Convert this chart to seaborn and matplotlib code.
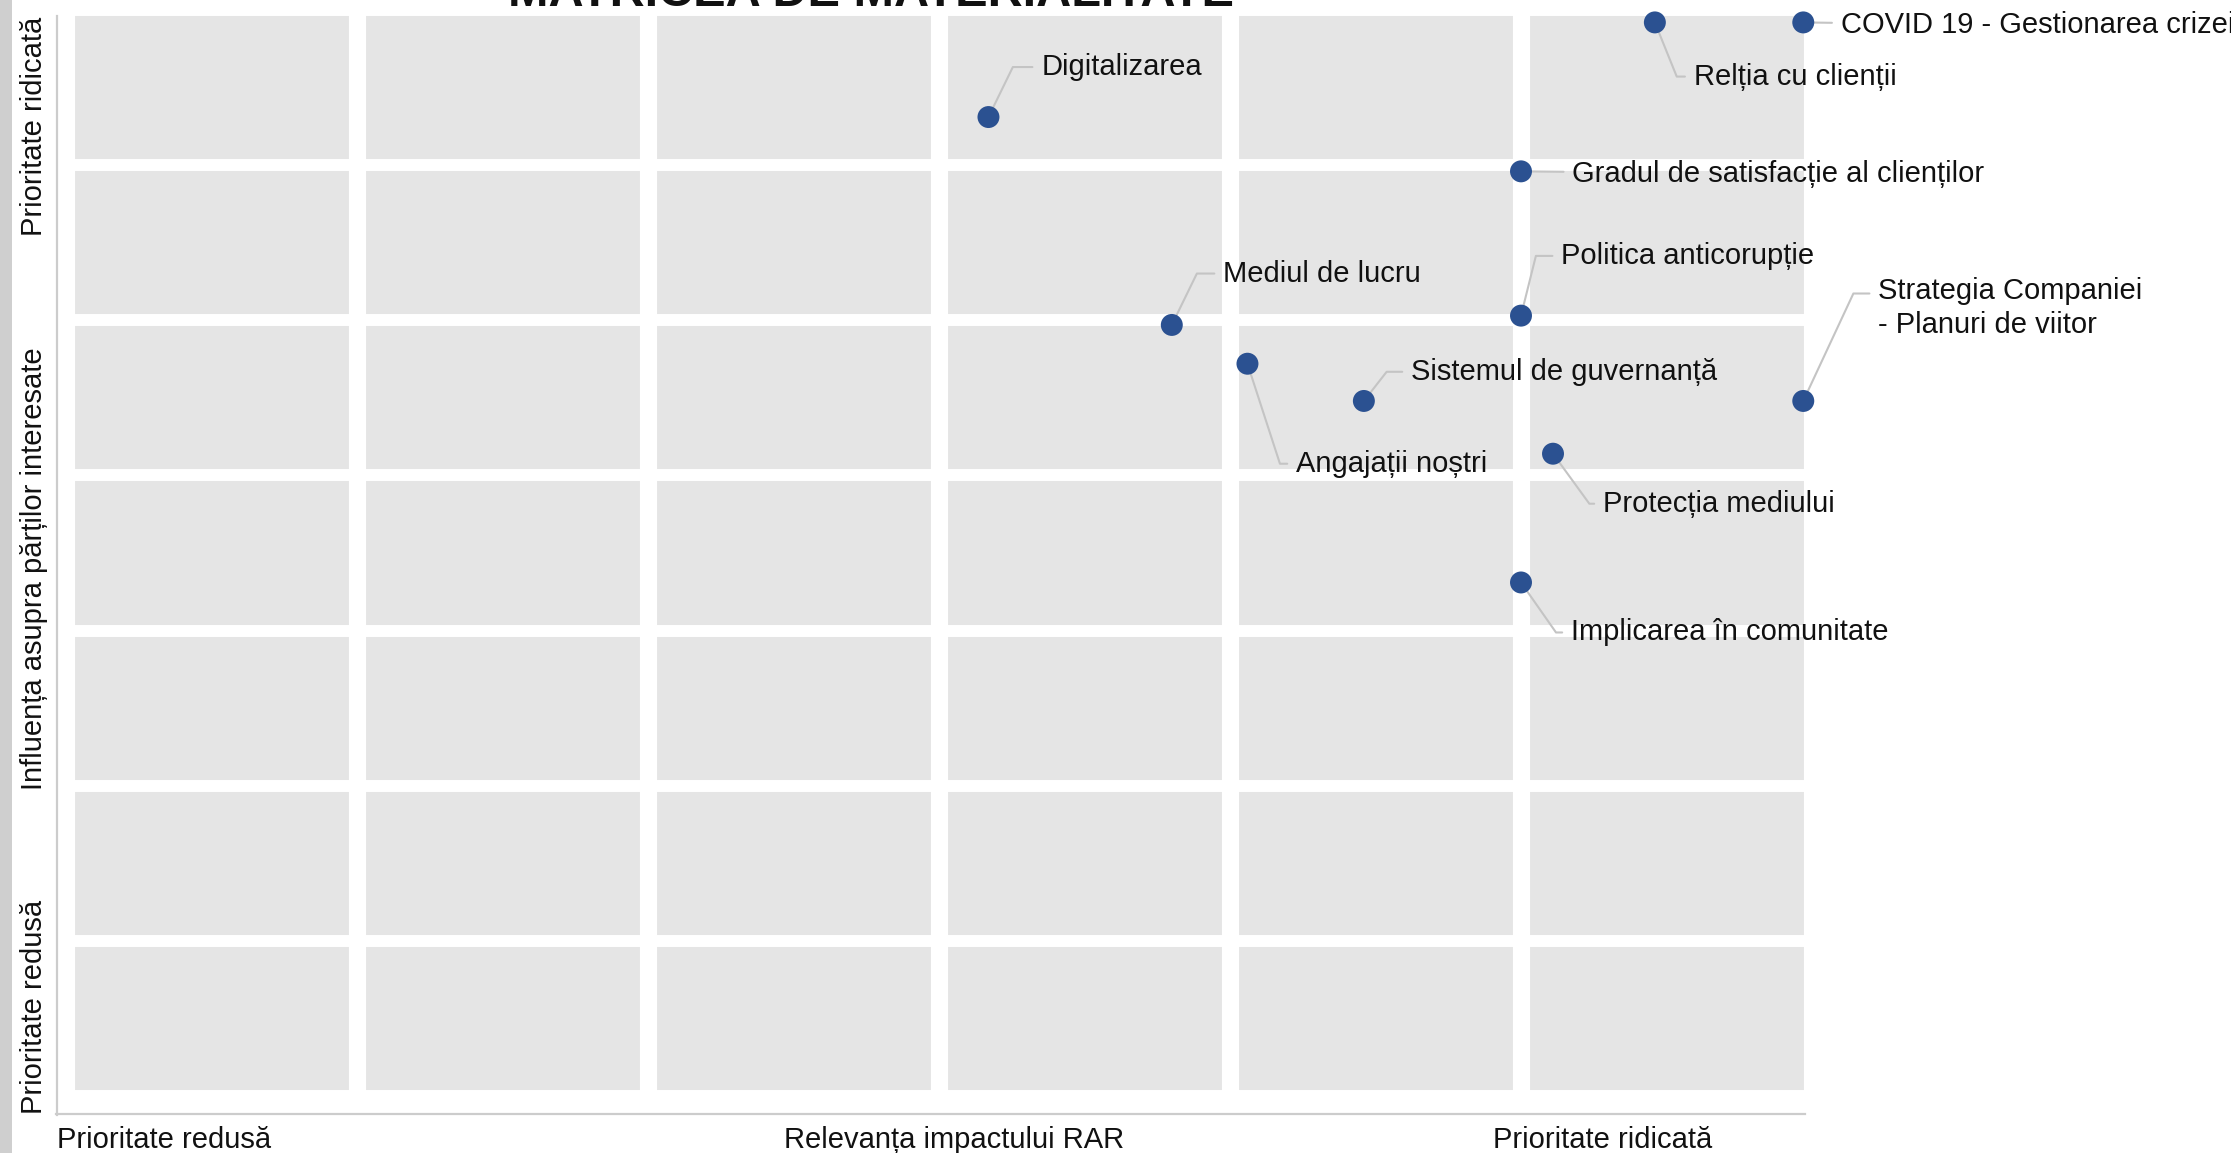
import pandas as pd
import matplotlib.pyplot as plt
import seaborn as sns
from matplotlib.patches import Rectangle

# === Date ===
teme = [
    "Digitalizarea",
    "Relția cu clienții",
    "COVID 19 - Gestionarea crizei",
    "Gradul de satisfacție al clienților",
    "Politica anticorupție",
    "Mediul de lucru",
    "Angajații noștri",
    "Sistemul de guvernanță",
    "Strategia Companiei\n- Planuri de viitor",
    "Protecția mediului",
    "Implicarea în comunitate",
]
relevanta_rar = [3.17, 5.46, 5.97, 5.00, 5.00, 3.80, 4.06, 4.46, 5.97, 5.11, 5.00]
influenta = [6.31, 6.92, 6.92, 5.96, 5.03, 4.97, 4.72, 4.48, 4.48, 4.14, 3.31]

x_labels = ["Prioritate redusă", "Relevanța impactului RAR", "Prioritate ridicată"]
y_labels = ["Prioritate ridicată", "Influența asupra părților interesate", "Prioritate redusă"]
titlu = "MATRICEA DE MATERIALITATE"

df = pd.DataFrame({"tema": teme, "x": relevanta_rar, "y": influenta})

# pozitia etichetelor: (dx, dy) in puncte, unghiul liniei de legatura
etichete = {
    "Digitalizarea": (38, 36, 64),
    "Relția cu clienții": (28, -39, -68),
    "COVID 19 - Gestionarea crizei": (27, -2, None),
    "Gradul de satisfacție al clienților": (37, -2, None),
    "Politica anticorupție": (29, 43, 76),
    "Mediul de lucru": (37, 37, 64),
    "Angajații noștri": (35, -72, -72),
    "Sistemul de guvernanță": (34, 21, 52),
    "Strategia Companiei\n- Planuri de viitor": (54, 67, 65),
    "Protecția mediului": (36, -36, -54),
    "Implicarea în comunitate": (36, -36, -55),
}

FS = 21

# === Stil ===
sns.set_style("darkgrid", {"axes.facecolor": "#e5e5e5", "grid.color": "white"})
plt.rcParams["font.family"] = ["Liberation Sans", "DejaVu Sans"]

W, H = 2231, 1153
fig = plt.figure(figsize=(W / 100, H / 100), dpi=100)
ax = fig.add_axes([66 / W, 1 - 1096 / H, (1812 - 66) / W, (1096 - 10) / H])

sns.scatterplot(data=df, x="x", y="y", s=250, color="#2b5191", edgecolor="none",
                zorder=5, clip_on=False, legend=False, ax=ax)

ax.set_xlim(0, 6)
ax.set_ylim(0, 7)
ax.set_xticks(range(7))
ax.set_yticks(range(8))
ax.set_xticklabels([])
ax.set_yticklabels([])
ax.tick_params(length=0)
ax.set_xlabel("")
ax.set_ylabel("")
ax.xaxis.grid(True, color="white", linewidth=12.3)
ax.yaxis.grid(True, color="white", linewidth=8.6)

# axe: doar stanga si jos, decalate
for s in ["top", "right"]:
    ax.spines[s].set_visible(False)
for s in ["left", "bottom"]:
    ax.spines[s].set_visible(True)
    ax.spines[s].set_color("#cccccc")
    ax.spines[s].set_linewidth(1.6)
sns.despine(ax=ax, offset={"left": 6.5, "bottom": 12.8})
ax.spines["left"].set_bounds(-0.12, 6.96)
ax.spines["bottom"].set_bounds(-0.033, 5.975)

# etichete cu linii de legatura
for _, r in df.iterrows():
    dx, dy, ang = etichete[r["tema"]]
    if ang is None:
        conn = "arc3,rad=0"
        relpos = (0, 0.58)
    else:
        conn = f"angle,angleA=0,angleB={ang},rad=0"
        relpos = (0, 0.73) if "\n" in r["tema"] else (0, 0.5)
    ax.annotate(r["tema"], xy=(r["x"], r["y"]), xytext=(dx, dy), textcoords="offset points",
                ha="left", va="center", fontsize=FS, color="#111111", linespacing=1.3,
                annotation_clip=False, zorder=3,
                arrowprops=dict(arrowstyle="-", color="#c4c4c4", lw=1.5,
                                connectionstyle=conn, relpos=relpos,
                                shrinkA=4, shrinkB=0))

# titlu (taiat sus, ca in original)
fig.text(871 / W, 1 - 6 / H, titlu, ha="center", va="baseline",
         fontsize=35, fontweight="bold", color="#111111")

# texte axe
fig.text(57 / W, 1 - 1126 / H, x_labels[0], ha="left", va="top", fontsize=FS, color="#111111")
fig.text(784 / W, 1 - 1126 / H, x_labels[1], ha="left", va="top", fontsize=FS, color="#111111")
fig.text(1712 / W, 1 - 1126 / H, x_labels[2], ha="right", va="top", fontsize=FS, color="#111111")

fig.text(34 / W, 1 - 17 / H, y_labels[0], ha="center", va="top", rotation=90, fontsize=FS, color="#111111")
fig.text(34 / W, 1 - 569 / H, y_labels[1], ha="center", va="center", rotation=90, fontsize=FS, color="#111111")
fig.text(34 / W, 1 - 1114 / H, y_labels[2], ha="center", va="bottom", rotation=90, fontsize=FS, color="#111111")

# banda gri din stanga
fig.patches.append(Rectangle((0, 0), 12 / W, 1, transform=fig.transFigure,
                             facecolor="#cfcfcf", edgecolor="none", zorder=0))

fig.savefig("out.png", dpi=100)
